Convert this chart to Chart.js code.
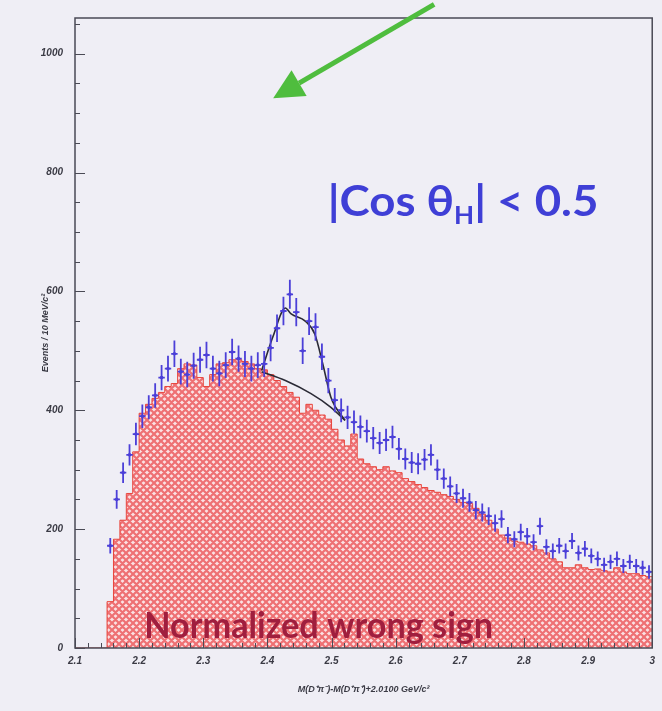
<!DOCTYPE html>
<html>
<head>
<meta charset="utf-8">
<script src="https://cdn.jsdelivr.net/npm/chart.js@4.4.1/dist/chart.umd.min.js"></script>
<style>
html, body { margin: 0; padding: 0; background: #efeef5; }
</style>
</head>
<body>
<canvas id="cv" width="662" height="711"></canvas>
<script>
// 10 MeV bins, left edges from 2.10 to 2.99
var binLow = 2.10;
var binW = 0.01;

// right sign candidates per bin (null = no entry)
var dataVal = [null, null, null, null, null, 172, 250, 295, 325, 360,
	390, 405, 425, 455, 470, 495, 465, 460, 475, 485,
	493, 470, 462, 476, 498, 487, 478, 470, 476, 478,
	505, 538, 567, 595, 565, 500, 550, 540, 490, 450,
	417, 400, 388, 380, 372, 365, 353, 345, 350, 355,
	335, 318, 312, 310, 317, 325, 300, 285, 272, 260,
	252, 245, 232, 228, 222, 210, 217, 190, 183, 195,
	188, 178, 205, 170, 163, 172, 163, 180, 160, 167,
	155, 150, 140, 145, 150, 138, 145, 138, 135, 128];

// normalized wrong sign histogram
var wsVal = [0, 0, 0, 0, 0, 78, 183, 215, 260, 330,
	395, 410, 420, 430, 440, 445, 470, 478, 476, 455,
	440, 460, 478, 480, 485, 485, 482, 478, 470, 468,
	460, 450, 440, 430, 422, 395, 410, 400, 392, 385,
	368, 350, 340, 360, 318, 310, 305, 300, 305, 298,
	295, 285, 280, 275, 270, 265, 262, 258, 255, 250,
	245, 243, 235, 225, 215, 200, 190, 185, 180, 178,
	175, 172, 165, 160, 150, 145, 135, 135, 140, 135,
	132, 133, 130, 128, 135, 128, 125, 125, 122, 120];

// fit: signal + background, and background alone
var fitX = [2.391, 2.409, 2.428, 2.437, 2.459, 2.474, 2.487, 2.499, 2.521];
var fitY = [467, 525, 572, 562, 550, 528, 475, 422, 383];
var bkgX = [2.391, 2.428, 2.468, 2.499, 2.521];
var bkgY = [465, 450, 428, 405, 383];

var xTicks = [2.1, 2.2, 2.3, 2.4, 2.5, 2.6, 2.7, 2.8, 2.9, 3.0];
var yTicks = [0, 200, 400, 600, 800, 1000];

var dataPts = [];
for (var i = 0; i < dataVal.length; i++) {
	if (dataVal[i] == null) continue;
	dataPts.push({ x: binLow + (i + 0.5) * binW, y: dataVal[i] });
}
var wsPts = [];
for (var j = 0; j < wsVal.length; j++) {
	wsPts.push({ x: binLow + j * binW, y: wsVal[j] });
}
wsPts.push({ x: binLow + wsVal.length * binW, y: wsVal[wsVal.length - 1] });

var fitPts = fitX.map(function (x, k) { return { x: x, y: fitY[k] }; });
var bkgPts = bkgX.map(function (x, k) { return { x: x, y: bkgY[k] }; });

// red cross hatch
function makeHatch() {
	var c = document.createElement('canvas');
	c.width = 7; c.height = 7;
	var g = c.getContext('2d');
	g.fillStyle = '#fbe1e3';
	g.fillRect(0, 0, 7, 7);
	g.strokeStyle = '#ee7073';
	g.lineWidth = 2.2;
	g.beginPath();
	for (var d = -7; d <= 7; d += 7) {
		g.moveTo(d, 0); g.lineTo(d + 7, 7);
		g.moveTo(d + 7, 0); g.lineTo(d, 7);
	}
	g.stroke();
	return g.createPattern(c, 'repeat');
}

// draws a string stretched to a given width
function fitText(c, txt, x, y, w) {
	var m = c.measureText(txt).width;
	c.save();
	c.translate(x, y);
	c.scale(w / m, 1);
	c.fillText(txt, 0, 0);
	c.restore();
}

var bgFill = {
	id: 'bgFill',
	beforeDraw: function (chart) {
		var c = chart.ctx;
		c.save();
		c.fillStyle = '#efeef5';
		c.fillRect(0, 0, chart.width, chart.height);
		c.restore();
	}
};

// error bars on the data points
var errBars = {
	id: 'errBars',
	afterDatasetsDraw: function (chart) {
		var c = chart.ctx, xs = chart.scales.x, ys = chart.scales.y;
		c.save();
		c.strokeStyle = '#4b3fd8';
		c.lineWidth = 1.8;
		c.beginPath();
		for (var i = 0; i < dataVal.length; i++) {
			var n = dataVal[i];
			if (n == null) continue;
			var xc = binLow + (i + 0.5) * binW;
			var e = Math.sqrt(n);
			var px = xs.getPixelForValue(xc);
			c.moveTo(px, ys.getPixelForValue(n - e));
			c.lineTo(px, ys.getPixelForValue(n + e));
			c.moveTo(xs.getPixelForValue(xc - binW / 2), ys.getPixelForValue(n));
			c.lineTo(xs.getPixelForValue(xc + binW / 2), ys.getPixelForValue(n));
		}
		c.stroke();
		c.restore();
	}
};

// frame, inside ticks, labels and arrow
var decor = {
	id: 'decor',
	afterDraw: function (chart) {
		var c = chart.ctx, a = chart.chartArea;
		var xs = chart.scales.x, ys = chart.scales.y;
		c.save();
		c.strokeStyle = '#4a4a55';
		c.lineWidth = 1.5;
		c.strokeRect(a.left, a.top, a.right - a.left, a.bottom - a.top);
		c.lineWidth = 1;
		c.beginPath();
		for (var v = 0; v <= 1050; v += 50) {
			var py = Math.round(ys.getPixelForValue(v)) + 0.5;
			var len = v % 200 === 0 ? 10 : 5;
			c.moveTo(a.left, py); c.lineTo(a.left + len, py);
		}
		for (var k = 0; k <= 45; k++) {
			var px = Math.round(xs.getPixelForValue(2.1 + k * 0.02)) + 0.5;
			var l2 = k % 5 === 0 ? 10 : 5;
			c.moveTo(px, a.bottom); c.lineTo(px, a.bottom - l2);
		}
		c.stroke();
		c.textBaseline = 'alphabetic';

		// wrong sign label
		var wx = xs.getPixelForValue(2.208);
		c.fillStyle = '#a01e3e';
		c.font = 'bold 36px Lato, "Noto Sans", sans-serif';
		fitText(c, 'Normalized wrong sign', wx, ys.getPixelForValue(17), xs.getPixelForValue(2.752) - wx);

		// helicity cut label, stretched as one block
		var x0 = xs.getPixelForValue(2.494), y0 = ys.getPixelForValue(727);
		var big = 'bold 42px Lato, "Noto Sans", sans-serif';
		var small = 'bold 24px Lato, "Noto Sans", sans-serif';
		c.font = big;
		var w1 = c.measureText('|Cos θ').width, w3 = c.measureText('| < 0.5').width;
		c.font = small;
		var w2 = c.measureText('H').width;
		var sc = (xs.getPixelForValue(2.916) - x0) / (w1 + w2 + w3);
		c.save();
		c.translate(x0, y0);
		c.scale(sc, 1);
		c.fillStyle = '#3f3fd6';
		c.font = big;
		c.fillText('|Cos θ', 0, 0);
		c.font = small;
		c.fillText('H', w1, 8);
		c.font = big;
		c.fillText('| < 0.5', w1 + w2, 0);
		c.restore();

		// green arrow
		var sx = xs.getPixelForValue(2.66), sy = ys.getPixelForValue(1083);
		var tx = xs.getPixelForValue(2.409), ty = ys.getPixelForValue(925);
		var dx = tx - sx, dy = ty - sy, dl = Math.sqrt(dx * dx + dy * dy);
		var ux = dx / dl, uy = dy / dl;
		var hl = 30, hw = 15;
		var bx = tx - ux * hl, by = ty - uy * hl;
		c.strokeStyle = '#4fbd3e';
		c.fillStyle = '#4fbd3e';
		c.lineWidth = 5;
		c.beginPath();
		c.moveTo(sx, sy); c.lineTo(bx, by);
		c.stroke();
		c.beginPath();
		c.moveTo(tx, ty);
		c.lineTo(bx - uy * hw, by + ux * hw);
		c.lineTo(bx + uy * hw, by - ux * hw);
		c.closePath();
		c.fill();
		c.restore();
	}
};

var tickFont = { family: '"Liberation Sans", Arial, sans-serif', size: 10, style: 'italic', weight: 'bold' };

new Chart(document.getElementById('cv').getContext('2d'), {
	type: 'line',
	data: {
		datasets: [{
			label: 'data',
			data: dataPts,
			showLine: false,
			pointRadius: 1.8,
			pointBackgroundColor: '#4b3fd8',
			pointBorderWidth: 0,
			order: 1
		}, {
			label: 'fit',
			data: fitPts,
			borderColor: '#2b2b36',
			borderWidth: 1.6,
			pointRadius: 0,
			cubicInterpolationMode: 'monotone',
			fill: false,
			order: 2
		}, {
			label: 'background',
			data: bkgPts,
			borderColor: '#2b2b36',
			borderWidth: 1.6,
			pointRadius: 0,
			cubicInterpolationMode: 'monotone',
			fill: false,
			order: 2
		}, {
			label: 'wrong sign',
			data: wsPts,
			stepped: true,
			borderColor: '#e8453c',
			borderWidth: 1,
			backgroundColor: makeHatch(),
			fill: 'origin',
			pointRadius: 0,
			order: 4
		}]
	},
	options: {
		responsive: false,
		animation: false,
		layout: { padding: { top: 12, right: 5, left: 0, bottom: 0 } },
		plugins: { legend: { display: false }, tooltip: { enabled: false } },
		scales: {
			x: {
				type: 'linear',
				min: 2.1,
				max: 3.0,
				afterBuildTicks: function (s) { s.ticks = xTicks.map(function (v) { return { value: v }; }); },
				afterFit: function (s) { s.height = 63; },
				grid: { display: false, drawTicks: false },
				border: { display: false },
				ticks: {
					padding: 7,
					maxRotation: 0,
					color: '#3a3a44',
					font: tickFont,
					callback: function (v) { return v === 3 ? '3' : v.toFixed(1); }
				},
				title: {
					display: true,
					text: 'M(D⁺π⁻)-M(D⁺π⁺)+2.0100 GeV/c²',
					color: '#3a3a44',
					font: { family: '"Liberation Sans", Arial, sans-serif', size: 9, style: 'italic', weight: 'bold' },
					padding: { top: 0, bottom: 16 }
				}
			},
			y: {
				min: 0,
				max: 1060,
				afterBuildTicks: function (s) { s.ticks = yTicks.map(function (v) { return { value: v }; }); },
				afterFit: function (s) { s.width = 75; },
				grid: { display: false, drawTicks: false },
				border: { display: false },
				ticks: {
					padding: 12,
					color: '#3a3a44',
					font: tickFont,
					callback: function (v) { return String(v); }
				},
				title: {
					display: true,
					text: 'Events / 10 MeV/c²',
					color: '#3a3a44',
					font: { family: '"Liberation Sans", Arial, sans-serif', size: 9, style: 'italic', weight: 'bold' },
					padding: { top: 40, bottom: 0 }
				}
			}
		}
	},
	plugins: [bgFill, errBars, decor]
});
</script>
</body>
</html>
